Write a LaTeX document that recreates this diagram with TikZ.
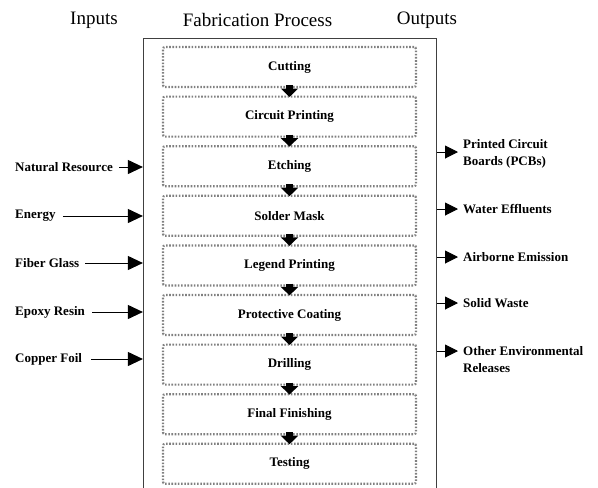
\documentclass[tikz,border=0pt]{standalone}
\usepackage{fontspec}
\setmainfont{Liberation Serif}
\usetikzlibrary{arrows.meta,calc}
\begin{document}
\begin{tikzpicture}[x=1pt,y=-1pt,
  header/.style={font=\fontsize{19}{22}\selectfont, inner sep=0pt},
  stagebox/.style={draw=black!50, line width=2.2pt, dash pattern=on 1.6pt off 1.6pt,
    rounded corners=2pt, minimum width=253pt, minimum height=40pt,
    font=\bfseries\fontsize{13}{15}\selectfont},
  inlabel/.style={anchor=west, inner sep=0pt, font=\bfseries\fontsize{13}{15}\selectfont},
  outlabel/.style={anchor=west, inner sep=0pt, align=left, font=\bfseries\fontsize{13}{17}\selectfont},
  flow/.style={line width=6.5pt, -{Triangle[length=8.5pt,width=17pt]}, shorten <=-3pt, shorten >=-1.5pt},
  inarrow/.style={line width=1pt, -{Triangle[length=15pt,width=14pt]}},
  outarrow/.style={line width=1pt, -{Triangle[length=13pt,width=13pt]}},
]
\useasboundingbox (0,0) rectangle (598,488);

% headers
\node[header] (hin) at (94,20) {Inputs};
\node[header] (hfab) at (257.5,20) {Fabrication Process};
\node[header] (hout) at (427,20) {Outputs};

% process frame
\node[draw=black!75, line width=1.2pt, minimum width=293pt, minimum height=482pt,
  anchor=north, inner sep=0pt] (proc) at (290,38) {};

% stages
\foreach \n/\t [count=\i from 0] in {s1/Cutting, s2/Circuit Printing, s3/Etching,
  s4/Solder Mask, s5/Legend Printing, s6/Protective Coating, s7/Drilling,
  s8/Final Finishing, s9/Testing}{
  \node[stagebox] (\n) at (289.5, 67+49.6*\i) {\t};
}
\foreach \a/\b in {s1/s2, s2/s3, s3/s4, s4/s5, s5/s6, s6/s7, s7/s8, s8/s9}{
  \draw[flow] (\a.south) -- (\b.north);
}

% inputs
\node[inlabel] (i1) at (15,167) {Natural Resource};
\node[inlabel] (i2) at (15,216) {Energy};
\node[inlabel] (i3) at (15,263) {Fiber Glass};
\node[inlabel] (i4) at (15,312) {Epoxy Resin};
\node[inlabel] (i5) at (15,359) {Copper Foil};
\draw[inarrow] ([xshift=6pt]i1.east) -- (i1.east -| proc.west);
\draw[inarrow] ([xshift=7pt]i2.east) -- (i2.east -| proc.west);
\draw[inarrow] ([xshift=6pt]i3.east) -- (i3.east -| proc.west);
\draw[inarrow] ([xshift=7pt]i4.east) -- (i4.east -| proc.west);
\draw[inarrow] ([xshift=9pt]i5.east) -- (i5.east -| proc.west);

% outputs
\node[outlabel] (o1) at (463,153.5) {Printed Circuit\\Boards (PCBs)};
\node[outlabel] (o2) at (463,209) {Water Effluents};
\node[outlabel] (o3) at (463,257) {Airborne Emission};
\node[outlabel] (o4) at (463,303) {Solid Waste};
\node[outlabel] (o5) at (463,359.5) {Other Environmental\\Releases};
\coordinate (c1) at (458,152);
\coordinate (c2) at (458,209);
\coordinate (c3) at (458,257);
\coordinate (c4) at (458,303);
\coordinate (c5) at (458,351);
\foreach \c in {c1,c2,c3,c4,c5}{
  \draw[outarrow] (\c -| proc.east) -- (\c);
}
\end{tikzpicture}
\end{document}
